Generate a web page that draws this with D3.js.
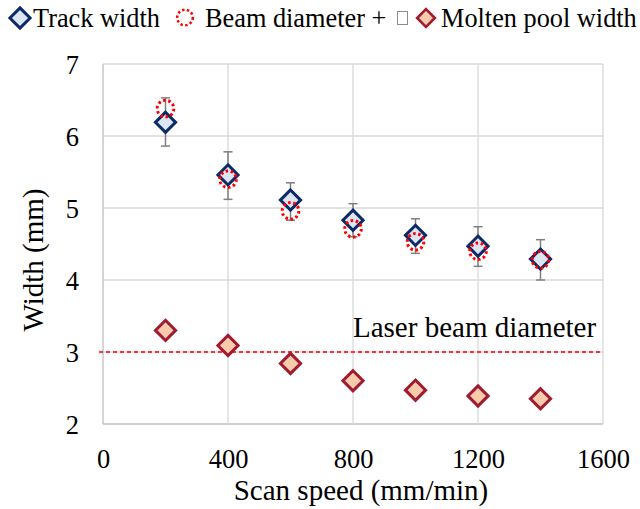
<!DOCTYPE html>
<html>
<head>
<meta charset="utf-8">
<script src="https://cdn.jsdelivr.net/npm/d3@7"></script>
<style>
  body { margin: 0; background: #fff; }
  svg { display: block; }
</style>
</head>
<body>
<div id="chart"></div>
<script>
// data
var speeds = [200, 400, 600, 800, 1000, 1200, 1400]
var trackWidth = [6.19, 5.46, 5.11, 4.83, 4.62, 4.47, 4.29]
var trackUpper = [6.53, 5.78, 5.35, 5.06, 4.85, 4.74, 4.56]
var trackLower = [5.86, 5.12, 4.83, 4.60, 4.37, 4.19, 4.00]
var beamPlusPool = [6.38, 5.40, 4.96, 4.71, 4.53, 4.40, 4.28]
var poolWidth = [3.30, 3.09, 2.84, 2.60, 2.47, 2.39, 2.35]
var laserDiameter = 3
var xTicks = [0, 400, 800, 1200, 1600]
var yTicks = [2, 3, 4, 5, 6, 7]

var width = 640, height = 509
var plot = { left: 103, right: 603, top: 64, bottom: 424 }
var serif = "'Liberation Serif'"

var svg = d3.select("#chart").append("svg")
    .attr("width", width)
    .attr("height", height)

var x = d3.scaleLinear().domain([0, 1600]).range([plot.left, plot.right])
var y = d3.scaleLinear().domain([2, 7]).range([plot.bottom, plot.top])

function label(sel, size) {
    return sel.style("font-family", serif).style("font-size", size + "px").style("fill", "#000")
}

// gridlines (box included)
svg.append("g").selectAll("line").data(yTicks).enter().append("line")
    .attr("x1", plot.left).attr("x2", plot.right)
    .attr("y1", function(d) { return y(d) }).attr("y2", function(d) { return y(d) })
    .attr("stroke", function(d) { return d == 2 ? "#bfbfbf" : "#d9d9d9" })
    .attr("stroke-width", 1.3)
svg.append("g").selectAll("line").data(xTicks).enter().append("line")
    .attr("y1", plot.top).attr("y2", plot.bottom)
    .attr("x1", function(d) { return x(d) }).attr("x2", function(d) { return x(d) })
    .attr("stroke", function(d) { return d == 0 ? "#bfbfbf" : "#d9d9d9" })
    .attr("stroke-width", 1.3)

// axes via d3 axis, domain and tick lines hidden
var yAxis = svg.append("g")
    .attr("transform", "translate(" + (plot.left - 24) + ",0)")
    .call(d3.axisLeft(y).tickValues(yTicks).tickFormat(d3.format("d")).tickSize(0).tickPadding(0))
yAxis.attr("font-family", null)
yAxis.select(".domain").remove()
label(yAxis.selectAll("text"), 26.5).attr("dy", "0.35em")

var xAxis = svg.append("g")
    .attr("transform", "translate(0," + plot.bottom + ")")
    .call(d3.axisBottom(x).tickValues(xTicks).tickFormat(d3.format("d")).tickSize(0).tickPadding(0))
xAxis.attr("font-family", null)
xAxis.select(".domain").remove()
label(xAxis.selectAll("text"), 26.5).attr("y", 44).attr("dy", 0)

// axis titles
label(svg.append("text"), 29)
    .attr("x", (plot.left + plot.right) / 2 + 8)
    .attr("y", 500)
    .attr("text-anchor", "middle")
    .text("Scan speed (mm/min)")

label(svg.append("text"), 29)
    .attr("transform", "translate(43,260) rotate(-90)")
    .attr("text-anchor", "middle")
    .text("Width (mm)")

// laser beam diameter reference line
svg.append("line")
    .attr("x1", plot.left - 4).attr("x2", plot.right)
    .attr("y1", y(laserDiameter)).attr("y2", y(laserDiameter))
    .attr("stroke", "#ff0000")
    .attr("stroke-width", 1.3)
    .attr("stroke-dasharray", "4,3")

label(svg.append("text"), 29)
    .attr("x", x(800))
    .attr("y", y(laserDiameter) - 15)
    .text("Laser beam diameter")

var diamond = d3.symbol().type(d3.symbolDiamond2).size(260)

// error bars for track width
var eb = svg.append("g").attr("stroke", "#7f7f7f").attr("stroke-width", 1.5)
speeds.forEach(function(s, i) {
    eb.append("line")
        .attr("x1", x(s)).attr("x2", x(s))
        .attr("y1", y(trackUpper[i])).attr("y2", y(trackLower[i]))
    eb.append("line")
        .attr("x1", x(s) - 4.5).attr("x2", x(s) + 4.5)
        .attr("y1", y(trackUpper[i])).attr("y2", y(trackUpper[i]))
    eb.append("line")
        .attr("x1", x(s) - 4.5).attr("x2", x(s) + 4.5)
        .attr("y1", y(trackLower[i])).attr("y2", y(trackLower[i]))
})

// track width markers
svg.append("g").selectAll("path").data(speeds).enter().append("path")
    .attr("d", diamond)
    .attr("transform", function(d, i) { return "translate(" + x(d) + "," + y(trackWidth[i]) + ")" })
    .attr("fill", "#dce6f2")
    .attr("stroke", "#0b2a66")
    .attr("stroke-width", 3)

// beam diameter + pool width markers (dotted circles)
svg.append("g").selectAll("circle").data(speeds).enter().append("circle")
    .attr("cx", function(d) { return x(d) })
    .attr("cy", function(d, i) { return y(beamPlusPool[i]) })
    .attr("r", 8.3)
    .attr("fill", "none")
    .attr("stroke", "#ff0000")
    .attr("stroke-width", 3)
    .attr("stroke-dasharray", "2.6,2.6")

// molten pool width markers
svg.append("g").selectAll("path").data(speeds).enter().append("path")
    .attr("d", diamond)
    .attr("transform", function(d, i) { return "translate(" + x(d) + "," + y(poolWidth[i]) + ")" })
    .attr("fill", "#f8cbad")
    .attr("stroke", "#a01a30")
    .attr("stroke-width", 3)

// legend
var lg = svg.append("g")
lg.append("path").attr("d", diamond)
    .attr("transform", "translate(20,18)")
    .attr("fill", "#dce6f2").attr("stroke", "#0b2a66").attr("stroke-width", 3)
label(lg.append("text"), 26.3).attr("x", 33).attr("y", 27).text("Track width")
lg.append("circle").attr("cx", 185).attr("cy", 17.5).attr("r", 7.8)
    .attr("fill", "none").attr("stroke", "#ff0000").attr("stroke-width", 2.6)
    .attr("stroke-dasharray", "2.4,2.4")
label(lg.append("text"), 26.3).attr("x", 205).attr("y", 27).text("Beam diameter +")
lg.append("rect").attr("x", 397.5).attr("y", 11.5).attr("width", 10).attr("height", 13)
    .attr("fill", "#fff").attr("stroke", "#8c8c8c").attr("stroke-width", 1)
lg.append("path").attr("d", d3.symbol().type(d3.symbolDiamond2).size(200))
    .attr("transform", "translate(426,18)")
    .attr("fill", "#f8cbad").attr("stroke", "#a01a30").attr("stroke-width", 2.6)
label(lg.append("text"), 26.3).attr("x", 441).attr("y", 27).text("Molten pool width")
</script>
</body>
</html>
